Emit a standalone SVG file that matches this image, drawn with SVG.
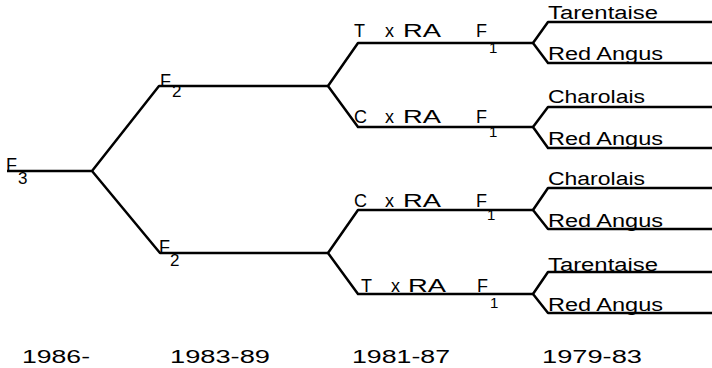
<svg xmlns="http://www.w3.org/2000/svg" width="712" height="368" viewBox="0 0 712 368">
<style>
.ln{fill:none;stroke:#000;stroke-width:2.5;stroke-linejoin:round;stroke-linecap:butt}
text{font-family:"Liberation Sans",Arial,sans-serif;font-size:18px;fill:#000}
.sub{font-size:17px}
.s1{font-size:15px}
</style>
<rect width="712" height="368" fill="#fff"/>
<g id="connectors" class="ln">
<path d="M7 171 H92 L159 86 H328 M92 171 L160 253 H328"/>
<path d="M328 86 L358 43 H533 M328 86 L358 127 H533"/>
<path d="M328 253 L358 210 H533 M328 253 L358 294 H533"/>
<path d="M533 43 L548 22 H712 M533 43 L548 63 H712"/>
<path d="M533 127 L548 107 H712 M533 127 L548 148 H712"/>
<path d="M533 210 L548 188 H712 M533 210 L548 229 H712"/>
<path d="M533 294 L548 272 H712 M533 294 L548 313 H712"/>
</g>
<g id="n-f3"><text x="6" y="171">F</text><text class="sub" x="18" y="184">3</text></g>
<g id="n-f2-upper"><text x="160" y="87">F</text><text class="sub" x="172" y="97">2</text></g>
<g id="n-f2-lower"><text x="159" y="253">F</text><text class="sub" x="170" y="266">2</text></g>
<g id="n-txra-upper"><text x="354" y="37">T</text><text x="385" y="37">x</text><text x="403" y="37" textLength="38" lengthAdjust="spacingAndGlyphs">RA</text><text x="476" y="37">F</text><text class="s1" x="489" y="53">1</text></g>
<g id="n-cxra-upper"><text x="354" y="123">C</text><text x="385" y="123">x</text><text x="403" y="123" textLength="38" lengthAdjust="spacingAndGlyphs">RA</text><text x="476" y="123">F</text><text class="s1" x="489" y="137">1</text></g>
<g id="n-cxra-lower"><text x="354" y="207">C</text><text x="385" y="207">x</text><text x="403" y="207" textLength="38" lengthAdjust="spacingAndGlyphs">RA</text><text x="476" y="207">F</text><text class="s1" x="487" y="220">1</text></g>
<g id="n-txra-lower"><text x="361" y="292">T</text><text x="391" y="292">x</text><text x="408" y="292" textLength="38" lengthAdjust="spacingAndGlyphs">RA</text><text x="477" y="292">F</text><text class="s1" x="490" y="308">1</text></g>
<g id="n-b1"><text x="548" y="19" textLength="110" lengthAdjust="spacingAndGlyphs">Tarentaise</text></g>
<g id="n-b2"><text x="548" y="60" textLength="115" lengthAdjust="spacingAndGlyphs">Red  Angus</text></g>
<g id="n-b3"><text x="548" y="103" textLength="97" lengthAdjust="spacingAndGlyphs">Charolais</text></g>
<g id="n-b4"><text x="548" y="145" textLength="115" lengthAdjust="spacingAndGlyphs">Red  Angus</text></g>
<g id="n-b5"><text x="548" y="185" textLength="97" lengthAdjust="spacingAndGlyphs">Charolais</text></g>
<g id="n-b6"><text x="548" y="227" textLength="115" lengthAdjust="spacingAndGlyphs">Red  Angus</text></g>
<g id="n-b7"><text x="548" y="271" textLength="110" lengthAdjust="spacingAndGlyphs">Tarentaise</text></g>
<g id="n-b8"><text x="548" y="311" textLength="115" lengthAdjust="spacingAndGlyphs">Red  Angus</text></g>
<g id="years">
<text x="22" y="363" textLength="68" lengthAdjust="spacingAndGlyphs">1986-</text>
<text x="170" y="363" textLength="100" lengthAdjust="spacingAndGlyphs">1983-89</text>
<text x="352" y="363" textLength="98" lengthAdjust="spacingAndGlyphs">1981-87</text>
<text x="542" y="363" textLength="100" lengthAdjust="spacingAndGlyphs">1979-83</text>
</g>
</svg>
